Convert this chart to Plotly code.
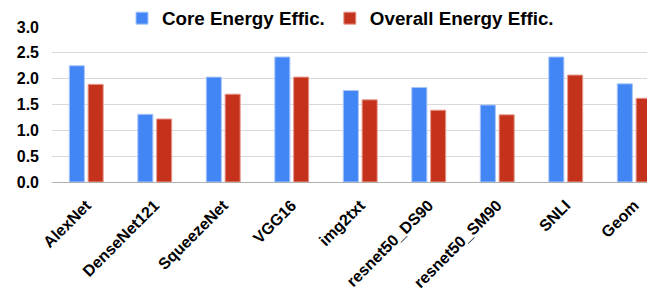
import plotly.graph_objects as go

categories = ["AlexNet", "DenseNet121", "SqueezeNet", "VGG16", "img2txt",
              "resnet50_DS90", "resnet50_SM90", "SNLI", "Geom"]
core_eff = [2.25, 1.31, 2.03, 2.42, 1.77, 1.83, 1.49, 2.42, 1.90]
overall_eff = [1.89, 1.22, 1.70, 2.03, 1.59, 1.39, 1.30, 2.07, 1.62]
y_ticks = [0.0, 0.5, 1.0, 1.5, 2.0, 2.5, 3.0]
y_tick_labels = ["0.0", "0.5", "1.0", "1.5", "2.0", "2.5", "3.0"]

FONT = "Liberation Sans, Arial, sans-serif"
BLUE = "#4285F4"
RED = "#C5321C"

fig = go.Figure()
fig.add_trace(go.Bar(name="Core Energy Effic.", x=categories, y=core_eff,
                     marker=dict(color=BLUE, line=dict(color="#A9C6FA", width=1))))
fig.add_trace(go.Bar(name="Overall Energy Effic.", x=categories, y=overall_eff,
                     marker=dict(color=RED, line=dict(color="#E59A8C", width=1))))

fig.update_layout(
    width=647, height=287,
    margin=dict(l=44, r=0, t=19, b=113, autoexpand=False),
    paper_bgcolor="white", plot_bgcolor="white",
    barmode="group", bargap=0.45, bargroupgap=0.2,
    font=dict(family=FONT, color="#000000"),
    showlegend=True,
    legend=dict(orientation="h", x=0.1161, xanchor="left", y=1.178, yref="paper",
                yanchor="top", font=dict(family=FONT, size=18.8, weight="bold", color="#000"),
                itemwidth=30, traceorder="normal", bgcolor="rgba(0,0,0,0)"),
    xaxis=dict(range=[-0.5, 8.303], tickangle=-45, showgrid=False, showline=False,
               automargin=False, ticklabelstandoff=10,
               tickfont=dict(family=FONT, size=16, weight="bold", color="#000"),
               ticks=""),
    yaxis=dict(range=[0, 3], tickvals=y_ticks, ticktext=y_tick_labels,
               showgrid=True, gridcolor="#D9D9D9", gridwidth=1, automargin=False,
               zeroline=True, zerolinecolor="#B0B0B0", zerolinewidth=1,
               showline=False, ticks="", ticklabelstandoff=12,
               tickfont=dict(family=FONT, size=16, weight="bold", color="#000")),
)

fig.write_html("out.html")
